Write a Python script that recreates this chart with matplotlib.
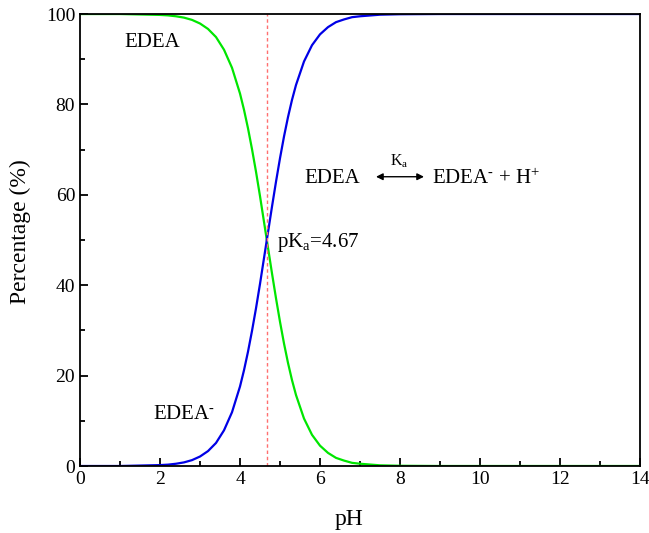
import matplotlib
matplotlib.use("Agg")
import matplotlib.pyplot as plt
from matplotlib.ticker import MultipleLocator

plt.rcParams['font.family'] = ['Liberation Serif', 'DejaVu Serif']
plt.rcParams['mathtext.fontset'] = 'custom'
plt.rcParams['mathtext.rm'] = 'Liberation Serif'
plt.rcParams['mathtext.it'] = 'Liberation Serif:italic'

# values
ph = [0, 1, 2, 2.2, 2.4, 2.6, 2.8, 3, 3.2, 3.4, 3.6, 3.8, 4, 4.1, 4.2, 4.3,
      4.4, 4.5, 4.6, 4.67, 4.7, 4.8, 4.9, 5, 5.1, 5.2, 5.3, 5.4, 5.6, 5.8,
      6, 6.2, 6.4, 6.6, 6.8, 7, 7.5, 8, 9, 10, 11, 12, 13, 14]
edea = [100, 100, 99.8, 99.7, 99.5, 99.2, 98.7, 97.9, 96.7, 94.9, 92.1, 88.1,
        82.4, 78.8, 74.7, 70.1, 65.1, 59.7, 54.0, 50, 48.3, 42.6, 37.1, 31.9,
        27.1, 22.8, 19.0, 15.7, 10.5, 6.9, 4.5, 2.9, 1.8, 1.2, 0.7, 0.5, 0.15,
        0.05, 0, 0, 0, 0, 0, 0]
edea_minus = [0, 0, 0.2, 0.3, 0.5, 0.8, 1.3, 2.1, 3.3, 5.1, 7.9, 11.9,
              17.6, 21.2, 25.3, 29.9, 34.9, 40.3, 46.0, 50, 51.7, 57.4, 62.9, 68.1,
              72.9, 77.2, 81.0, 84.3, 89.5, 93.1, 95.5, 97.1, 98.2, 98.8, 99.3, 99.5,
              99.85, 99.95, 100, 100, 100, 100, 100, 100]
pka = 4.67

fig = plt.figure(figsize=(6.49, 5.33), dpi=100)
ax = fig.add_axes([0.1233, 0.1257, 0.8628, 0.848])

ax.plot(ph, edea, color='#00e600', lw=1.6)
ax.plot(ph, edea_minus, color='#0000e6', lw=1.6)
ax.axvline(pka, color='#ff7070', lw=1, ls=(0, (2.5, 2)))

ax.set_xlim(0, 14)
ax.set_ylim(0, 100)
ax.xaxis.set_major_locator(MultipleLocator(2))
ax.xaxis.set_minor_locator(MultipleLocator(1))
ax.yaxis.set_major_locator(MultipleLocator(20))
ax.yaxis.set_minor_locator(MultipleLocator(10))
ax.tick_params(which='both', direction='in', top=False, right=False, labelsize=14, width=1.3)
ax.tick_params(which='major', length=6)
ax.tick_params(which='minor', length=3.5)
for s in ax.spines.values():
    s.set_linewidth(1.3)

ax.set_xlabel('pH', fontsize=17, va='center')
ax.set_ylabel('Percentage (%)', fontsize=17, va='center')
ax.xaxis.set_label_coords(0.48, -0.119)
ax.yaxis.set_label_coords(-0.107, 0.518)

fs = 15
ax.text(1.8, 93.6, 'EDEA', fontsize=fs, ha='center', va='center')
ax.text(2.6, 11.5, 'EDEA$^{\\text{-}}$', fontsize=fs, ha='center', va='center')
ax.text(6.3, 63.5, 'EDEA', fontsize=fs, ha='center', va='center')
ax.annotate('', xy=(8.6, 64.0), xytext=(7.4, 64.0),
            arrowprops=dict(arrowstyle='<|-|>', color='black', lw=1, mutation_scale=10, shrinkA=0, shrinkB=0))
ax.text(7.98, 67.5, 'K$_\\mathregular{a}$', fontsize=11.5, ha='center', va='center')
ax.text(8.8, 63.5, 'EDEA$^{\\text{-}}$ + H$^{+}$', fontsize=fs, ha='left', va='center')
ax.text(4.93, 49.5, 'pK$_\\mathregular{a}$=4.67', fontsize=fs, ha='left', va='center')

fig.savefig('out.png', dpi=100)
